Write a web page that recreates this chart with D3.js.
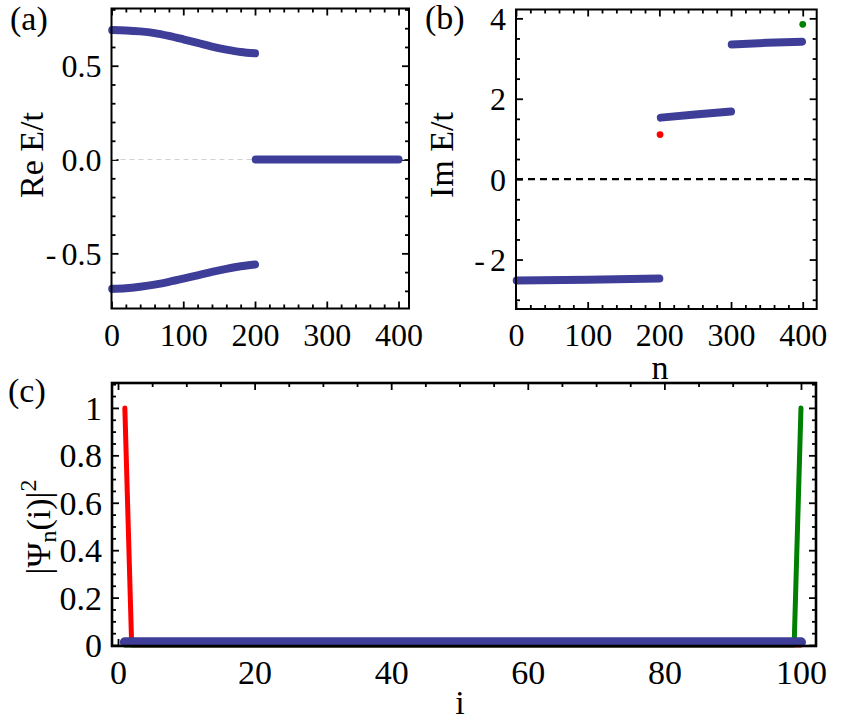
<!DOCTYPE html>
<html>
<head>
<meta charset="utf-8">
<script src="https://cdn.jsdelivr.net/npm/d3@7"></script>
<style>
body { margin: 0; background: #fff; }
svg text { font-family: "Liberation Serif", "Times New Roman", serif; fill: #000; }
</style>
</head>
<body>
<svg></svg>
<script>
// (a) Re E/t against eigenvalue index n
var nBand   = [1, 20, 40, 60, 80, 100, 120, 140, 160, 180, 200];
var reUpper = [0.690, 0.688, 0.683, 0.674, 0.659, 0.641, 0.622, 0.602, 0.586, 0.573, 0.566];
var reLower = [-0.689, -0.686, -0.678, -0.667, -0.652, -0.635, -0.617, -0.599, -0.583, -0.569, -0.559];
var nZero   = [201, 400];
var reZero  = [0, 0];

// (b) Im E/t against n
var nImA = [1, 100, 200],   imA = [-2.52, -2.50, -2.47];
var nImB = [202, 250, 300], imB = [1.53, 1.61, 1.68];
var nImC = [301, 350, 399], imC = [3.35, 3.39, 3.42];
var edgeN  = [201, 400];
var edgeIm = [1.11, 3.85];

// (c) |Psi_n(i)|^2 against site i
var iRed   = [1, 2, 100],  psiRed   = [1, 0, 0];
var iGreen = [1, 99, 100], psiGreen = [0, 0, 1];
var iBulk  = [1, 100],     psiBulk  = [0.012, 0.012];

// ticks
var nMajor   = [0, 100, 200, 300, 400];
var reMajor  = [-0.5, 0, 0.5];
var imMajor  = [-2, 0, 2, 4];
var iMajor   = [0, 20, 40, 60, 80, 100];
var psiMajor = [0, 0.2, 0.4, 0.6, 0.8, 1];

var blue = "#3e3e99", red = "#ff0000", green = "#008000";
var serif = "Liberation Serif, Times New Roman, serif";

var svg = d3.select("svg")
    .attr("width", 849)
    .attr("height", 720)
    .attr("font-family", serif);

function minors(lo, hi, step, major) {
  var out = [];
  for (var v = Math.ceil(lo / step) * step; v <= hi + 1e-9; v += step) {
    var r = Math.round(v / step) * step;
    if (!major.some(function(m) { return Math.abs(m - r) < 1e-9; })) out.push(r);
  }
  return out;
}

// split a leading minus off so it sits a little apart, as in the original
function spaceMinus(sel) {
  sel.each(function() {
    var t = d3.select(this), s = t.text();
    if (s.charAt(0) !== "-") return;
    t.text("");
    t.append("tspan").text("-");
    t.append("tspan").attr("dx", 5).text(s.slice(1));
  });
}

function panel(box, xDom, yDom, opt) {
  var x = d3.scaleLinear().domain(xDom).range([box.left, box.right]);
  var y = d3.scaleLinear().domain(yDom).range([box.bottom, box.top]);
  var w = box.right - box.left, h = box.bottom - box.top;
  var g = svg.append("g");
  var maj = 7, mnr = 4;

  function side(gen, scale, vals, len, fmt, tr) {
    var a = gen(scale).tickValues(vals).tickSize(-len).tickPadding(10)
        .tickFormat(fmt || "");
    var s = g.append("g").attr("transform", tr).call(a);
    s.attr("font-family", serif);
    s.select(".domain").remove();
    s.selectAll("line").attr("stroke", "#000").attr("stroke-width", 1.8);
    s.selectAll("text").attr("font-size", opt.fs).attr("font-family", serif);
    return s;
  }
  var xMin = minors(xDom[0], xDom[1], opt.xStep, opt.xMajor);
  var yMin = minors(yDom[0], yDom[1], opt.yStep, opt.yMajor);

  var bx = side(d3.axisBottom, x, opt.xMajor, maj, opt.xFmt, "translate(0," + box.bottom + ")");
  bx.selectAll("text").attr("y", opt.xLabY).attr("dy", 0);
  side(d3.axisBottom, x, xMin, mnr, null, "translate(0," + box.bottom + ")");
  side(d3.axisTop, x, opt.xMajor, maj, null, "translate(0," + box.top + ")");
  side(d3.axisTop, x, xMin, mnr, null, "translate(0," + box.top + ")");
  var ly = side(d3.axisLeft, y, opt.yMajor, maj, opt.yFmt, "translate(" + box.left + ",0)");
  ly.selectAll("text").attr("dy", "0.34em").call(spaceMinus);
  side(d3.axisLeft, y, yMin, mnr, null, "translate(" + box.left + ",0)");
  side(d3.axisRight, y, opt.yMajor, maj, null, "translate(" + box.right + ",0)");
  side(d3.axisRight, y, yMin, mnr, null, "translate(" + box.right + ",0)");

  var plot = svg.append("g");
  svg.append("rect")
      .attr("x", box.left).attr("y", box.top)
      .attr("width", w).attr("height", h)
      .attr("fill", "none").attr("stroke", "#000").attr("stroke-width", opt.frameW);
  return { x: x, y: y, plot: plot };
}

function series(xs, ys) { return xs.map(function(v, k) { return [v, ys[k]]; }); }

function drawLine(p, xs, ys, color, width, curve) {
  var line = d3.line()
      .x(function(d) { return p.x(d[0]); })
      .y(function(d) { return p.y(d[1]); })
      .curve(curve || d3.curveLinear);
  p.plot.append("path")
      .datum(series(xs, ys))
      .attr("d", line)
      .attr("fill", "none")
      .attr("stroke", color)
      .attr("stroke-width", width)
      .attr("stroke-linecap", "round")
      .attr("stroke-linejoin", "round");
}

function fmtSigned(d) { return (d < 0 ? "-" : "") + Math.abs(d).toFixed(1); }
function fmtInt(d) { return (d < 0 ? "-" : "") + Math.abs(d); }

// ---- (a)
var pa = panel({ left: 111.5, top: 8.5, right: 409, bottom: 308.5 }, [0, 414.6], [-0.794, 0.805], {
  xMajor: nMajor, xStep: 20, yMajor: reMajor, yStep: 0.1,
  yFmt: fmtSigned, xFmt: fmtInt, fs: 32, xLabY: 37, frameW: 2
});
pa.plot.append("line")
    .attr("x1", pa.x(0)).attr("x2", pa.x(414.6))
    .attr("y1", pa.y(0)).attr("y2", pa.y(0))
    .attr("stroke", "#cfcfcf").attr("stroke-width", 1)
    .attr("stroke-dasharray", "5,4");
drawLine(pa, nBand, reUpper, blue, 8, d3.curveMonotoneX);
drawLine(pa, nBand, reLower, blue, 8, d3.curveMonotoneX);
drawLine(pa, nZero, reZero, blue, 8);

// ---- (b)
var pb = panel({ left: 516, top: 9.5, right: 816.7, bottom: 309 }, [0, 419.5], [-3.23, 4.22], {
  xMajor: nMajor, xStep: 20, yMajor: imMajor, yStep: 0.5,
  yFmt: fmtInt, xFmt: fmtInt, fs: 32, xLabY: 36.5, frameW: 2
});
pb.plot.append("line")
    .attr("x1", pb.x(0)).attr("x2", pb.x(419.5))
    .attr("y1", pb.y(0)).attr("y2", pb.y(0))
    .attr("stroke", "#000").attr("stroke-width", 2.4)
    .attr("stroke-dasharray", "7,5");
drawLine(pb, nImA, imA, blue, 8);
drawLine(pb, nImB, imB, blue, 8);
drawLine(pb, nImC, imC, blue, 8);
pb.plot.selectAll("circle.edge")
    .data(series(edgeN, edgeIm))
    .enter().append("circle")
    .attr("cx", function(d) { return pb.x(d[0]); })
    .attr("cy", function(d) { return pb.y(d[1]); })
    .attr("r", 3.4)
    .attr("fill", function(d, k) { return k === 0 ? red : green; });

// ---- (c)
var pc = panel({ left: 112, top: 383, right: 816, bottom: 646 }, [-0.88, 102.2], [-0.004, 1.105], {
  xMajor: iMajor, xStep: 5, yMajor: psiMajor, yStep: 0.05,
  yFmt: function(d) { return String(+d.toFixed(1)); }, xFmt: fmtInt, fs: 34, xLabY: 38, frameW: 2.6
});
drawLine(pc, iRed, psiRed, red, 5);
drawLine(pc, iGreen, psiGreen, green, 5);
drawLine(pc, iBulk, psiBulk, blue, 10);

// ---- labels
function label(txt, x, y, size, rot) {
  return svg.append("text")
      .attr("font-size", size)
      .attr("font-family", serif)
      .attr("text-anchor", rot ? "middle" : "start")
      .attr("transform", "translate(" + x + "," + y + ")" + (rot ? " rotate(-90)" : ""))
      .text(txt);
}
label("(a)", 10, 30, 34);
label("(b)", 425, 29, 34);
label("(c)", 8, 402, 34);
label("Re E/t", 43, 155, 34, true);
label("Im E/t", 453, 155, 34, true);
svg.append("text").attr("font-size", 34).attr("font-family", serif).attr("text-anchor", "middle")
    .attr("x", 660).attr("y", 379).text("n");
svg.append("text").attr("font-size", 34).attr("font-family", serif).attr("text-anchor", "middle")
    .attr("x", 460).attr("y", 714).text("i");

var psiLab = svg.append("text")
    .attr("font-size", 34)
    .attr("font-family", serif)
    .attr("text-anchor", "middle")
    .attr("transform", "translate(50,527) rotate(-90)");
psiLab.append("tspan").text("|\u03A8");
psiLab.append("tspan").attr("font-size", 24).attr("dy", 6).text("n");
psiLab.append("tspan").attr("dy", -6).text("(i)|");
psiLab.append("tspan").attr("font-size", 24).attr("dy", -14).text("2");
</script>
</body>
</html>
